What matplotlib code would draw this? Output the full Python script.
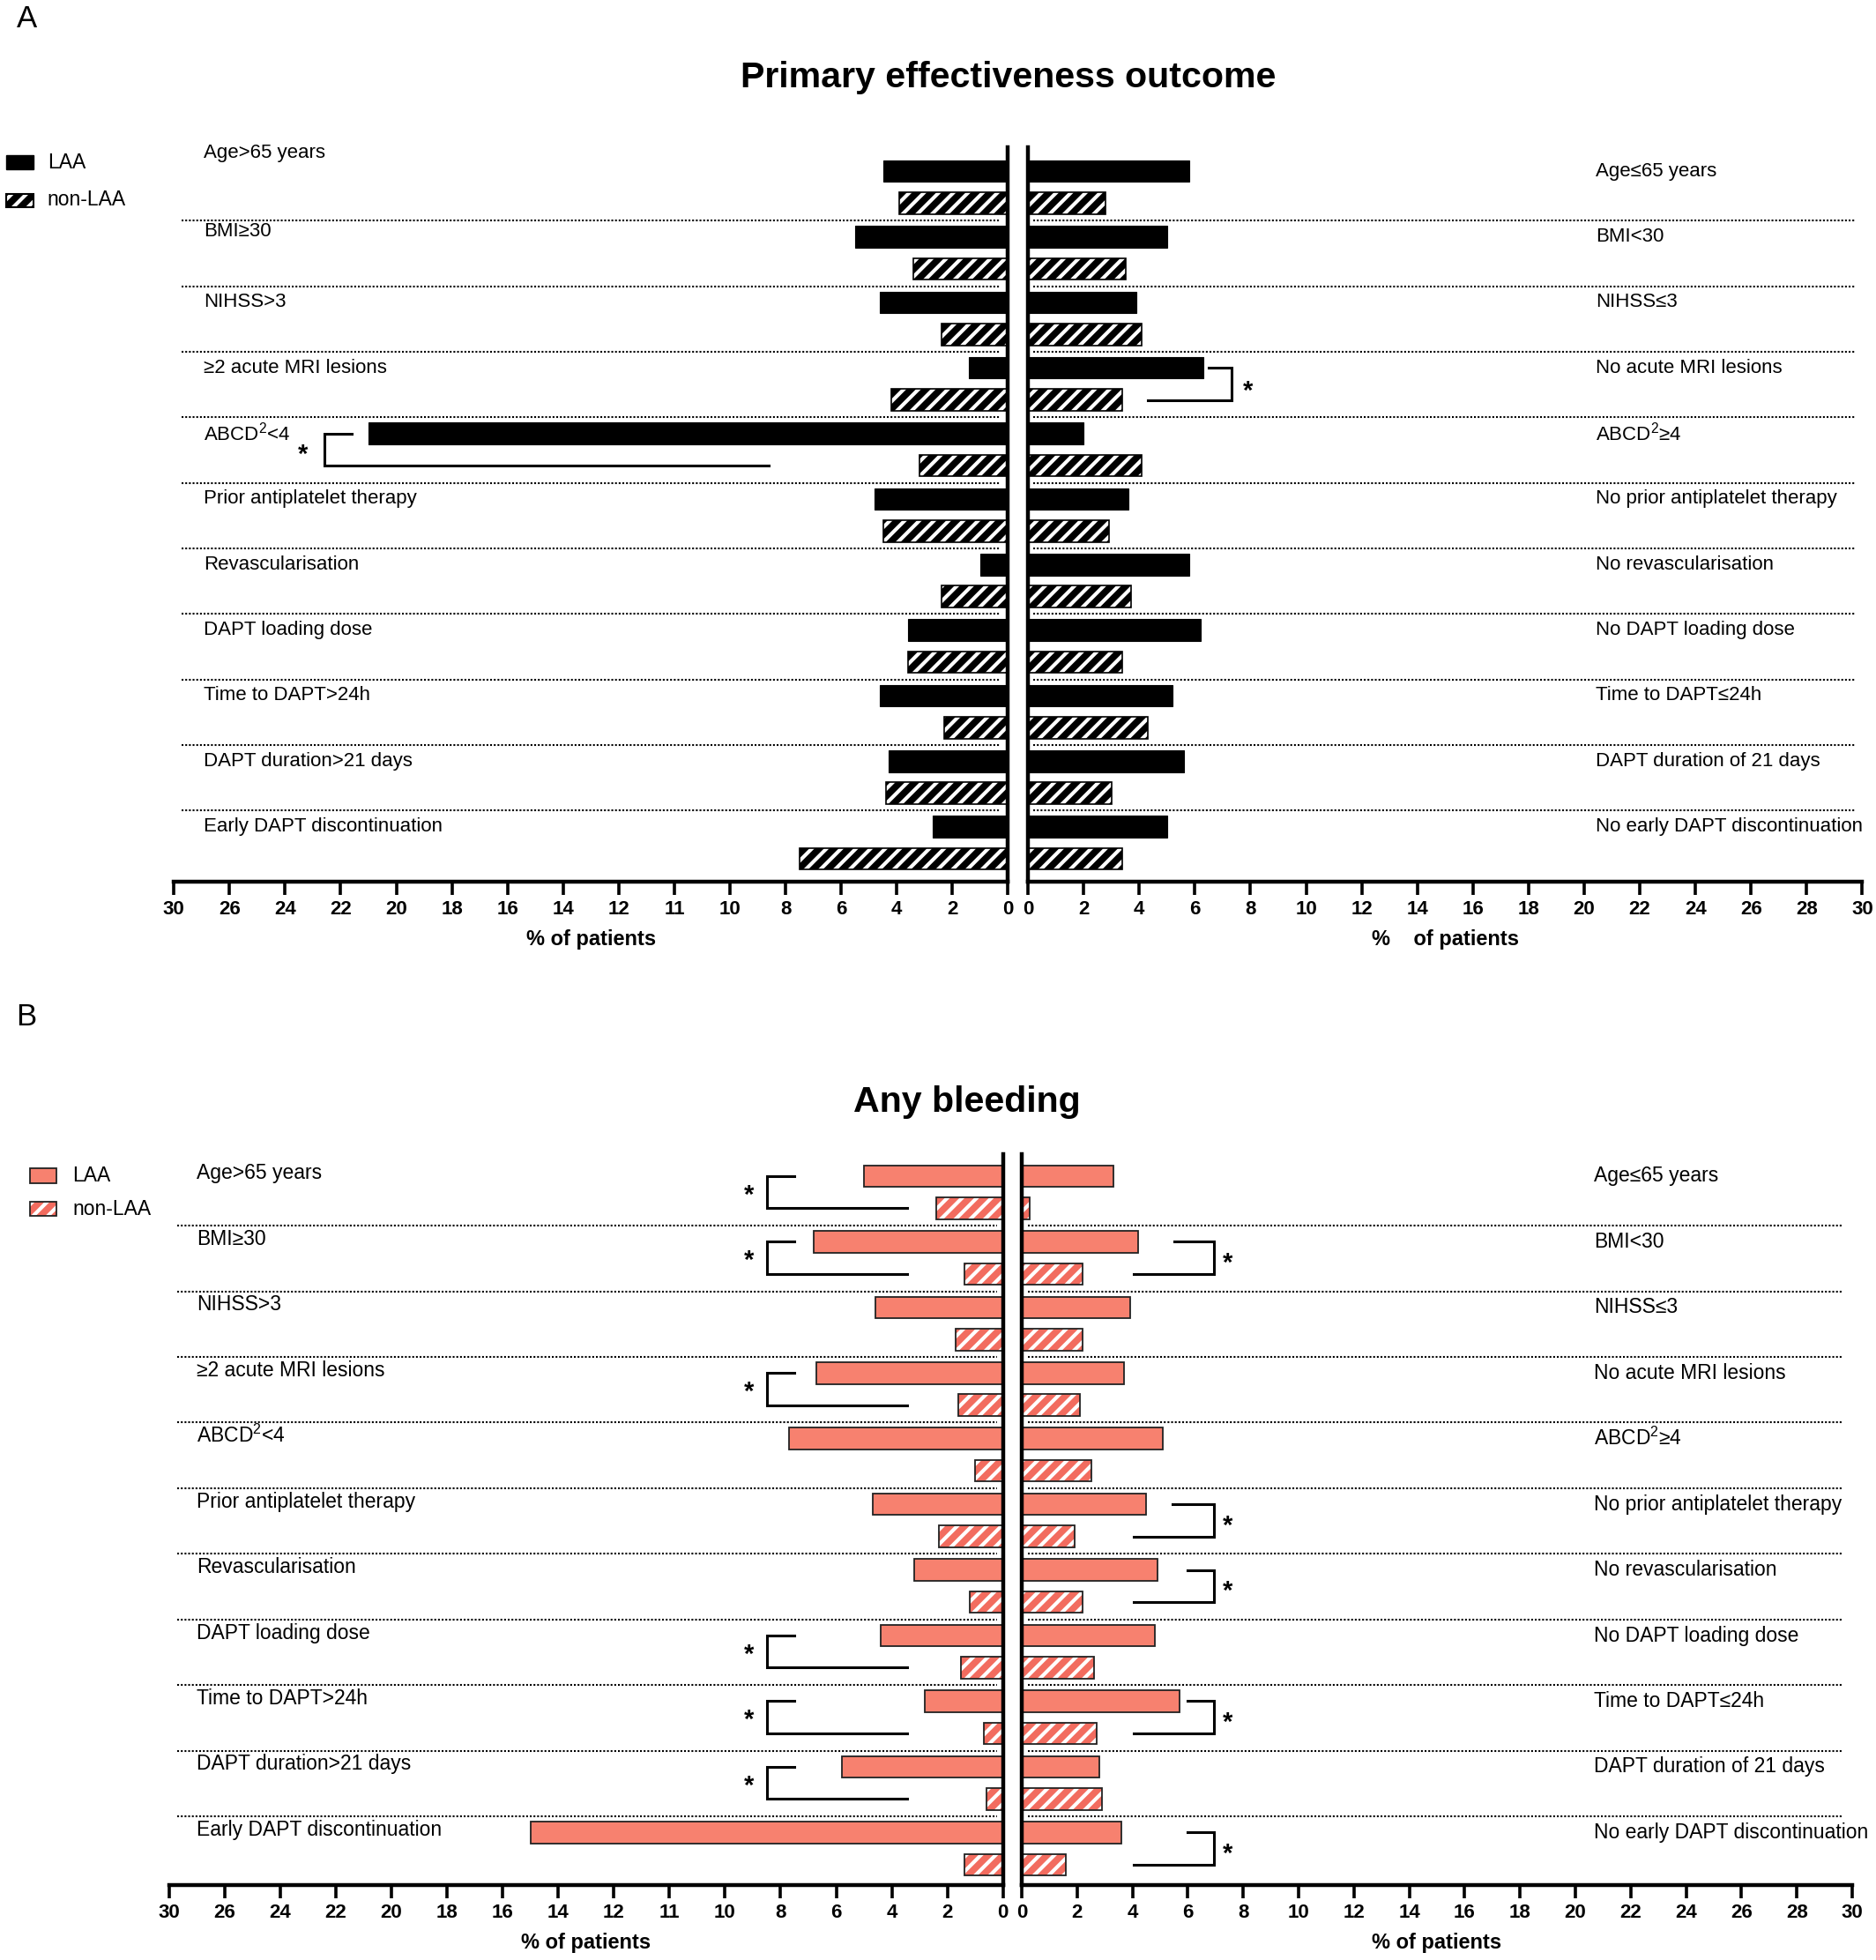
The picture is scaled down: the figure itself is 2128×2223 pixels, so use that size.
import numpy as np
import matplotlib
matplotlib.use("Agg")
import matplotlib.pyplot as plt
from matplotlib import font_manager
from matplotlib.patches import Rectangle

# ---------------- data ----------------
labels_left = ["Age>65 years", "BMI≥30", "NIHSS>3", "≥2 acute MRI lesions", "ABCD$^2$<4",
               "Prior antiplatelet therapy", "Revascularisation", "DAPT loading dose",
               "Time to DAPT>24h", "DAPT duration>21 days", "Early DAPT discontinuation"]
labels_right = ["Age≤65 years", "BMI<30", "NIHSS≤3", "No acute MRI lesions", "ABCD$^2$≥4",
                "No prior antiplatelet therapy", "No revascularisation", "No DAPT loading dose",
                "Time to DAPT≤24h", "DAPT duration of 21 days", "No early DAPT discontinuation"]

# Panel A: primary effectiveness outcome (% of patients)
effA_left_laa = [4.5, 5.5, 4.6, 1.4, 23.0, 4.8, 1.0, 3.6, 4.6, 4.3, 2.7]
effA_left_non = [3.9, 3.4, 2.4, 4.2, 3.2, 4.5, 2.4, 3.6, 2.3, 4.4, 7.5]
effA_right_laa = [5.8, 5.0, 3.9, 6.3, 2.0, 3.6, 5.8, 6.2, 5.2, 5.6, 5.0]
effA_right_non = [2.8, 3.5, 4.1, 3.4, 4.1, 2.9, 3.7, 3.4, 4.3, 3.0, 3.4]

# Panel B: any bleeding (% of patients)
bleB_left_laa = [5.0, 6.8, 4.6, 6.7, 7.7, 4.7, 3.2, 4.4, 2.8, 5.8, 17.0]
bleB_left_non = [2.4, 1.4, 1.7, 1.6, 1.0, 2.3, 1.2, 1.5, 0.7, 0.6, 1.4]
bleB_right_laa = [3.3, 4.2, 3.9, 3.7, 5.1, 4.5, 4.9, 4.8, 5.7, 2.8, 3.6]
bleB_right_non = [0.3, 2.2, 2.2, 2.1, 2.5, 1.9, 2.2, 2.6, 2.7, 2.9, 1.6]

# significant comparisons (row indices)
sigA_left = [4]
sigA_right = [3]
sigB_left = [0, 1, 3, 7, 8, 9]
sigB_right = [1, 5, 6, 8, 10]

ticks_vals = list(range(0, 31, 2))
ticklabels_left = ["0", "2", "4", "6", "8", "10", "11", "12", "14", "16", "18", "20", "22", "24", "26", "30"]
ticklabels_right = [str(v) for v in ticks_vals]

# ---------------- fonts ----------------
names = {f.name for f in font_manager.fontManager.ttflist}
REG = "Liberation Sans" if "Liberation Sans" in names else "DejaVu Sans"
if "Liberation Sans Narrow" in names:
    NAR = "Liberation Sans Narrow"
    nar_scale = 1.0
else:
    NAR = REG
    nar_scale = 0.82

plt.rcParams["mathtext.fontset"] = "custom"
plt.rcParams["mathtext.rm"] = REG
plt.rcParams["hatch.linewidth"] = 3.0

W, H = 1500.0, 1567.0
fig = plt.figure(figsize=(21.28, 22.23), dpi=100)


def rect(x0, x1, yt, yb):
    return [x0 / W, 1 - yb / H, (x1 - x0) / W, (yb - yt) / H]


def fx(x):
    return x / W


def fy(y):
    return 1 - y / H


def style_axis(ax, side, ticklabels):
    ax.set_xlim((30, 0) if side == "L" else (0, 30))
    for s in ["top", "left", "right", "bottom"]:
        ax.spines[s].set_visible(False)
    ax.spines["bottom"].set_visible(True)
    keep = "right" if side == "L" else "left"
    ax.spines[keep].set_visible(True)
    for s in ["bottom", keep]:
        ax.spines[s].set_linewidth(3.2)
    ax.set_yticks([])
    ax.set_xticks(ticks_vals)
    ax.set_xticklabels(ticklabels, fontfamily=REG, fontweight="bold", fontsize=16)
    ax.tick_params(axis="x", direction="out", length=11, width=2.6, pad=4)
    ax.patch.set_alpha(0)


def draw_bars(ax, laa, non, laa_color, non_face, edge, edge_lw):
    n = len(laa)
    y = np.arange(n)
    h = 0.33
    ax.barh(y, laa, height=h, color=laa_color, edgecolor=edge, linewidth=edge_lw)
    ax.barh(y + 0.49, non, height=h, color=non_face, edgecolor="white", hatch="//", linewidth=0)
    ax.barh(y + 0.49, non, height=h, color="none", edgecolor=edge, linewidth=max(edge_lw, 1.2))


def separators(ax, xmin, xmax):
    for i in range(10):
        ax.axhline(i + 0.755, xmin=xmin, xmax=xmax, color="black", lw=1.5,
                   linestyle=(0, (1, 1)))


def bracket(ax, g, xv, xt, xb, xs, ystar):
    ax.plot([xt, xv, xv, xb], [g, g, g + 0.49, g + 0.49], color="black", lw=2.2,
            solid_joinstyle="miter", clip_on=False)
    ax.text(xs, g + ystar, "*", ha="center", va="baseline", fontsize=21,
            fontfamily=REG, fontweight="bold", clip_on=False)


XLAB = dict(fontfamily=REG, fontweight="bold", fontsize=17, labelpad=9)

# ---------------- Panel A ----------------
axAL = fig.add_axes(rect(139, 806, 118, 705))
axAR = fig.add_axes(rect(822, 1489, 118, 705))
for ax, side, tl in [(axAL, "L", ticklabels_left), (axAR, "R", ticklabels_right)]:
    style_axis(ax, side, tl)
    ax.set_ylim(10.84, -0.36)
draw_bars(axAL, effA_left_laa, effA_left_non, "black", "black", "black", 0.8)
draw_bars(axAR, effA_right_laa, effA_right_non, "black", "black", "black", 0.8)
separators(axAL, 0.009, 0.991)
separators(axAR, 0.006, 0.991)
axAL.set_xlabel("% of patients", **XLAB)
axAR.set_xlabel("%    of patients", **XLAB)

for g in sigA_left:
    bracket(axAL, g, 24.6, 23.6, 8.6, 25.35, 0.44)
for g in sigA_right:
    bracket(axAR, g, 7.33, 6.5, 4.3, 7.9, 0.47)

for i, lab in enumerate(labels_left):
    dy = -0.28 if i == 0 else (-0.08 if i == 1 else 0.0)
    axAL.text(28.92, i + dy, lab, ha="left", va="center", fontsize=19.5 * nar_scale, fontfamily=NAR)
for i, lab in enumerate(labels_right):
    axAR.text(20.42, i, lab, ha="left", va="center", fontsize=19.5 * nar_scale, fontfamily=NAR,
              clip_on=False)

fig.text(fx(806), fy(62), "Primary effectiveness outcome", ha="center", va="center",
         fontsize=29.6, fontweight="bold", fontfamily=REG)
fig.text(fx(13), fy(15), "A", ha="left", va="center", fontsize=25, fontfamily=REG)

# legend A
fig.add_artist(Rectangle((fx(5), fy(135)), fx(22), 11 / H, transform=fig.transFigure,
                         facecolor="black", edgecolor="black", lw=1))
fig.add_artist(Rectangle((fx(5), fy(166)), fx(22), 11 / H, transform=fig.transFigure,
                         facecolor="black", edgecolor="white", hatch="//", lw=0))
fig.add_artist(Rectangle((fx(5), fy(166)), fx(22), 11 / H, transform=fig.transFigure,
                         facecolor="none", edgecolor="black", lw=1.5))
fig.text(fx(38), fy(130), "LAA", ha="left", va="center", fontsize=16.5, fontfamily=REG)
fig.text(fx(38), fy(160), "non-LAA", ha="left", va="center", fontsize=16.5, fontfamily=REG)

# ---------------- Panel B ----------------
LAA_B = "#F7816F"
NON_B = "#F26C5F"
axBL = fig.add_axes(rect(135, 802, 923, 1507))
axBR = fig.add_axes(rect(817, 1481, 923, 1507))
for ax, side, tl in [(axBL, "L", ticklabels_left), (axBR, "R", ticklabels_right)]:
    style_axis(ax, side, tl)
    ax.set_ylim(10.8, -0.33)
draw_bars(axBL, bleB_left_laa, bleB_left_non, LAA_B, NON_B, "#222222", 1.3)
draw_bars(axBR, bleB_right_laa, bleB_right_non, LAA_B, NON_B, "#222222", 1.3)
separators(axBL, 0.01, 0.993)
separators(axBR, 0.0075, 0.988)
axBL.set_xlabel("% of patients", **XLAB)
axBR.set_xlabel("% of patients", **XLAB)

for g in sigB_left:
    bracket(axBL, g, 8.5, 7.5, 3.45, 9.15, 0.40)
top_ends = {1: 5.5, 5: 5.45, 6: 6.0, 8: 6.0, 10: 6.0}
for g in sigB_right:
    bracket(axBR, g, 6.95, top_ends[g], 4.05, 7.45, 0.44)

for i, lab in enumerate(labels_left):
    axBL.text(29.0, i - 0.04, lab, ha="left", va="center", fontsize=16.5, fontfamily=REG)
for i, lab in enumerate(labels_right):
    axBR.text(20.66, i, lab, ha="left", va="center", fontsize=16.5, fontfamily=REG, clip_on=False)

fig.text(fx(773), fy(881), "Any bleeding", ha="center", va="center",
         fontsize=29.6, fontweight="bold", fontfamily=REG)
fig.text(fx(13), fy(813), "B", ha="left", va="center", fontsize=25, fontfamily=REG)

# legend B
fig.add_artist(Rectangle((fx(24), fy(946)), fx(21), 12 / H, transform=fig.transFigure,
                         facecolor=LAA_B, edgecolor="#222222", lw=1.3))
fig.add_artist(Rectangle((fx(24), fy(972)), fx(21), 11 / H, transform=fig.transFigure,
                         facecolor=NON_B, edgecolor="white", hatch="//", lw=0))
fig.add_artist(Rectangle((fx(24), fy(972)), fx(21), 11 / H, transform=fig.transFigure,
                         facecolor="none", edgecolor="#222222", lw=1.3))
fig.text(fx(58), fy(940), "LAA", ha="left", va="center", fontsize=16.5, fontfamily=REG)
fig.text(fx(58), fy(967), "non-LAA", ha="left", va="center", fontsize=16.5, fontfamily=REG)

fig.savefig("out.png", dpi=100, facecolor="white")
